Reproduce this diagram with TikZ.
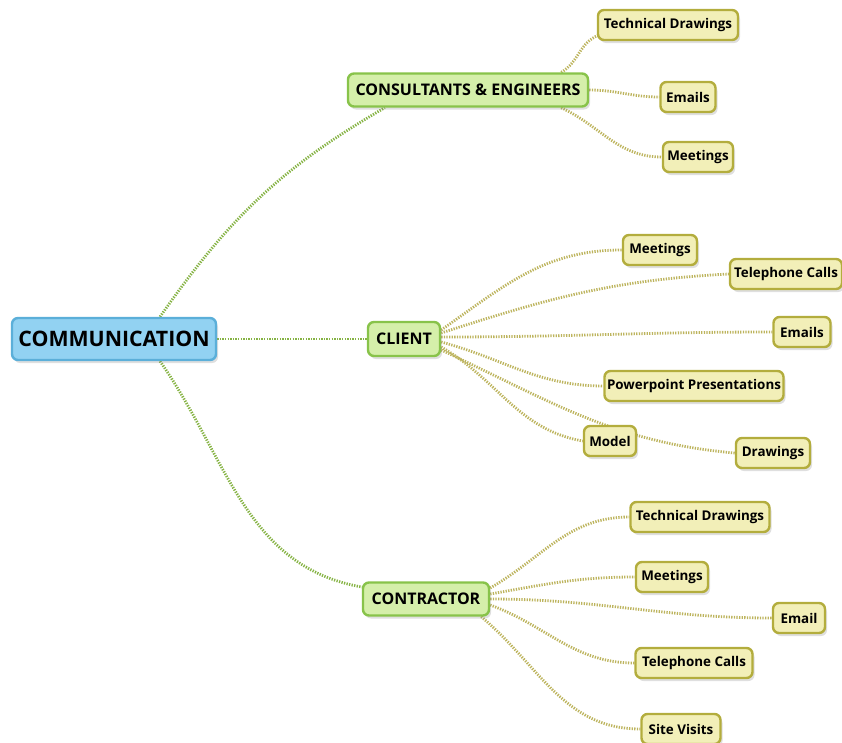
\documentclass[tikz,border=0pt]{standalone}
\usepackage{fontspec}
\setmainfont{Open Sans}
\usetikzlibrary{shadows,calc,backgrounds}
\definecolor{rootfill}{HTML}{92D2F2}
\definecolor{rootdraw}{HTML}{5BAFD9}
\definecolor{greenfill}{HTML}{D5EFAA}
\definecolor{greendraw}{HTML}{88C34A}
\definecolor{yelfill}{HTML}{F2EFB8}
\definecolor{yeldraw}{HTML}{B3AD3D}
\definecolor{glinec}{HTML}{86B344}
\definecolor{ylinec}{HTML}{BDB45E}
\begin{document}
\begin{tikzpicture}[x=1pt,y=-1pt,
  box/.style={draw, line width=2.4pt, rounded corners=6pt, inner sep=0pt, text=black,
    drop shadow={opacity=0.25, shadow xshift=2pt, shadow yshift=-3pt}},
  rootbox/.style={box, fill=rootfill, draw=rootdraw, font=\bfseries\fontsize{21.3}{25}\selectfont},
  mainbox/.style={box, fill=greenfill, draw=greendraw, font=\bfseries\fontsize{16}{19}\selectfont, minimum height=33pt},
  leafbox/.style={box, fill=yelfill, draw=yeldraw, font=\bfseries\fontsize{13.4}{16}\selectfont, minimum height=30pt},
  gline/.style={draw=glinec, line width=2.8pt, dash pattern=on 1.3pt off 1.3pt},
  yline/.style={draw=ylinec, line width=2.8pt, dash pattern=on 1.3pt off 1.3pt}]
\useasboundingbox (0,0) rectangle (842,742);

% main nodes
\node[rootbox, minimum width=204pt, minimum height=42pt] (root) at (114,339) {COMMUNICATION};
\node[mainbox, minimum width=240pt] (cons) at (468,90) {CONSULTANTS \& ENGINEERS};
\node[mainbox, minimum width=72pt, minimum height=34pt] (client) at (404,339) {CLIENT};
\node[mainbox, minimum width=126pt] (contr) at (426,599) {CONTRACTOR};

% consultants leaves
\node[leafbox, minimum width=140pt] (ctd) at (668,25) {Technical Drawings};
\node[leafbox, minimum width=55pt] (cem) at (688,97) {Emails};
\node[leafbox, minimum width=70pt] (cme) at (698,157) {Meetings};

% client leaves
\node[leafbox, minimum width=74pt] (lme) at (660,250) {Meetings};
\node[leafbox, minimum width=112pt] (ltc) at (786,274) {Telephone Calls};
\node[leafbox, minimum width=57pt] (lem) at (802,332) {Emails};
\node[leafbox, minimum width=179pt] (lpp) at (694,386) {Powerpoint Presentations};
\node[leafbox, minimum width=52pt] (lmo) at (610,441) {Model};
\node[leafbox, minimum width=74pt] (ldr) at (773,453) {Drawings};

% contractor leaves
\node[leafbox, minimum width=139pt] (ktd) at (700,517) {Technical Drawings};
\node[leafbox, minimum width=72pt] (kme) at (672,577) {Meetings};
\node[leafbox, minimum width=52pt] (kem) at (799,618) {Email};
\node[leafbox, minimum width=117pt] (ktc) at (694,663) {Telephone Calls};
\node[leafbox, minimum width=79pt] (ksv) at (681,729) {Site Visits};

\begin{scope}[on background layer]
% main connectors
\draw[gline] (root.east) -- (client.west);
\draw[gline] ($(root.north)+(46,0)$) to[out=55,in=210] ($(cons.south west)+(38,0)$);
\draw[gline] ($(root.south)+(46,0)$) to[out=-55,in=170] ($(contr.west)+(0,-12)$);

% consultants
\draw[yline] ($(cons.north east)+(-28,0)$) to[out=30,in=200] ($(ctd.south west)+(2,-6)$);
\draw[yline] (cons.east) to[out=0,in=180] (cem.west);
\draw[yline] ($(cons.south east)+(-28,0)$) to[out=-25,in=180] (cme.west);

% client
\draw[yline] ($(client.east)+(0,-9)$) to[out=35,in=180] (lme.west);
\draw[yline] ($(client.east)+(0,-6)$) to[out=18,in=183] (ltc.west);
\draw[yline] ($(client.east)+(0,-2)$) to[out=0,in=180] (lem.west);
\draw[yline] ($(client.east)+(0,3)$) to[out=-15,in=180] (lpp.west);
\draw[yline] ($(client.east)+(0,8)$) to[out=-30,in=170] (lmo.west);
\draw[yline] ($(client.east)+(0,11)$) to[out=-25,in=175] (ldr.west);

% contractor
\draw[yline] ($(contr.east)+(0,-11)$) to[out=30,in=180] (ktd.west);
\draw[yline] ($(contr.east)+(0,-5)$) to[out=10,in=180] (kme.west);
\draw[yline] (contr.east) to[out=0,in=180] (kem.west);
\draw[yline] ($(contr.east)+(0,6)$) to[out=-20,in=180] (ktc.west);
\draw[yline] ($(contr.south east)+(-9,0)$) to[out=-40,in=180] (ksv.west);
\end{scope}
\end{tikzpicture}
\end{document}
